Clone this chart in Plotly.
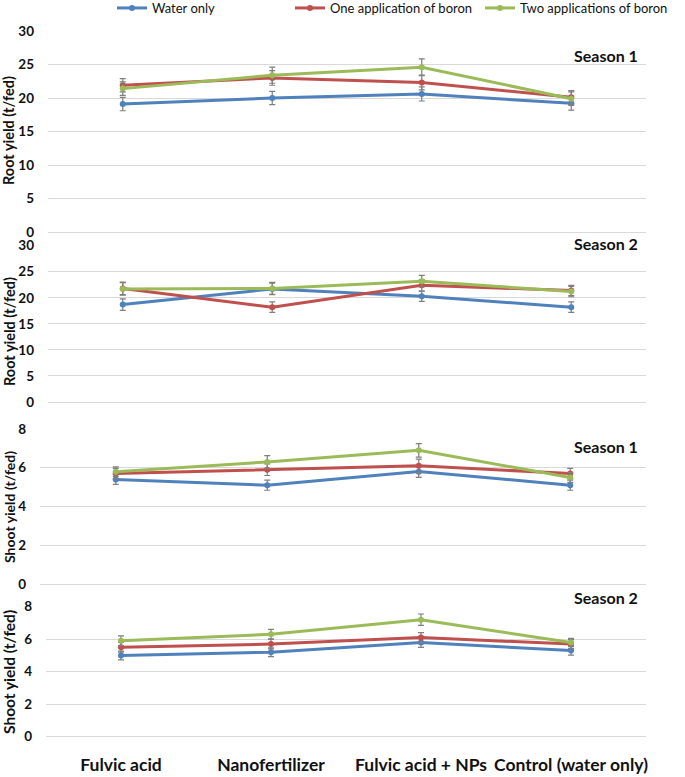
import plotly.graph_objects as go

categories = ["Fulvic acid", "Nanofertilizer", "Fulvic acid + NPs", "Control (water only)"]
series_names = ["Water only", "One application of boron", "Two applications of boron"]
colors = ["#4F81BD", "#C0504D", "#9BBB59"]

# Root yield, season 1
root_s1 = [[19.1, 20.0, 20.6, 19.2], [21.9, 23.0, 22.3, 20.1], [21.4, 23.4, 24.6, 19.9]]
root_s1_err = [[1.0, 1.0, 1.05, 1.0], [1.0, 1.1, 1.1, 1.0], [1.0, 1.2, 1.25, 1.0]]
# Root yield, season 2
root_s2 = [[18.7, 21.7, 20.3, 18.2], [21.8, 18.2, 22.4, 21.4], [21.7, 21.8, 23.2, 21.2]]
root_s2_err = [[1.1, 1.1, 1.0, 1.0], [1.2, 1.0, 1.1, 1.0], [1.2, 1.15, 1.1, 1.0]]
# Shoot yield, season 1
shoot_s1 = [[5.4, 5.1, 5.8, 5.1], [5.7, 5.9, 6.1, 5.7], [5.8, 6.3, 6.9, 5.5]]
shoot_s1_err = [[0.26, 0.26, 0.3, 0.26], [0.27, 0.3, 0.35, 0.27], [0.25, 0.33, 0.35, 0.25]]
# Shoot yield, season 2
shoot_s2 = [[5.0, 5.2, 5.8, 5.3], [5.5, 5.7, 6.1, 5.7], [5.9, 6.3, 7.2, 5.8]]
shoot_s2_err = [[0.27, 0.27, 0.3, 0.28], [0.3, 0.3, 0.3, 0.27], [0.3, 0.3, 0.35, 0.25]]

panels = [
    dict(vals=root_s1, err=root_s1_err, rng=[0, 30], dtick=5, title="Root yield (t/fed)", season="Season 1",
         ypx=(31, 232), xpx=(48, 646), season_y=55, title_y=131, title_size=14.5),
    dict(vals=root_s2, err=root_s2_err, rng=[0, 30], dtick=5, title="Root yield (t/fed)", season="Season 2",
         ypx=(245.7, 402), xpx=(48, 646), season_y=243, title_y=332, title_size=14.5),
    dict(vals=shoot_s1, err=shoot_s1_err, rng=[0, 8], dtick=2, title="Shoot yield (t/fed)", season="Season 1",
         ypx=(429, 584), xpx=(40, 646), season_y=446, title_y=507, title_size=14),
    dict(vals=shoot_s2, err=shoot_s2_err, rng=[0, 8], dtick=2, title="Shoot yield (t/fed)", season="Season 2",
         ypx=(606.7, 736.7), xpx=(46, 646), season_y=597, title_y=672, title_size=15.5),
]

W, H = 685, 777
FONT = "Lato"
fig = go.Figure()
legend_names = ["legend", "legend2", "legend3"]

annotations = []
for i, p in enumerate(panels):
    ax = "" if i == 0 else str(i + 1)
    for s in range(3):
        fig.add_trace(go.Scatter(
            x=categories, y=p["vals"][s],
            mode="lines+markers",
            name=series_names[s],
            line=dict(color=colors[s], width=3),
            marker=dict(color=colors[s], size=6),
            error_y=dict(type="data", array=p["err"][s], color="#7f7f7f", thickness=1.2, width=3),
            xaxis="x" + ax, yaxis="y" + ax,
            showlegend=(i == 0),
            legend=legend_names[s],
        ))
    y0 = 1 - p["ypx"][1] / H
    y1 = 1 - p["ypx"][0] / H
    x0 = p["xpx"][0] / W
    x1 = p["xpx"][1] / W
    fig.layout["xaxis" + ax] = dict(
        domain=[x0, x1], anchor="y" + ax, type="category", range=[-0.5, 3.5],
        showgrid=False, showline=False, zeroline=False,
        showticklabels=(i == 3), ticklabelstandoff=16,
        tickfont=dict(family=FONT, size=17.5, color="#111111", weight="bold"),
        ticks="",
    )
    fig.layout["yaxis" + ax] = dict(
        domain=[y0, y1], anchor="x" + ax, range=p["rng"], dtick=p["dtick"],
        showgrid=True, gridcolor="#d9d9d9", gridwidth=1,
        zeroline=True, zerolinecolor="#d9d9d9", zerolinewidth=1,
        showline=False, ticks="", ticklabelstandoff=13,
        tickfont=dict(family=FONT, size=13.5, color="#111111", weight="bold"),
    )
    annotations.append(dict(
        text=p["season"], xref="paper", yref="paper", x=606 / W, y=1 - p["season_y"] / H,
        xanchor="center", yanchor="middle", showarrow=False,
        font=dict(family=FONT, size=16, color="#111111", weight="bold"),
    ))
    annotations.append(dict(
        text=p["title"], xref="paper", yref="paper", x=9 / W, y=1 - p["title_y"] / H,
        xanchor="center", yanchor="middle", showarrow=False, textangle=-90,
        font=dict(family=FONT, size=p["title_size"], color="#111111", weight="bold"),
    ))

leg_x = [112, 290, 480]
leg_common = dict(orientation="h", yanchor="middle", y=1 - 8 / H, xanchor="left",
                  bgcolor="rgba(0,0,0,0)", font=dict(family=FONT, size=13, color="#111111"))
fig.update_layout(
    width=W, height=H,
    margin=dict(l=0, r=0, t=0, b=0, autoexpand=False),
    paper_bgcolor="white", plot_bgcolor="white",
    annotations=annotations,
    legend=dict(x=leg_x[0] / W, **leg_common),
    legend2=dict(x=leg_x[1] / W, **leg_common),
    legend3=dict(x=leg_x[2] / W, **leg_common),
)

fig.write_html("out.html", config={"displayModeBar": False},
               post_script="document.body.style.margin='0px';document.body.style.overflow='hidden';")
